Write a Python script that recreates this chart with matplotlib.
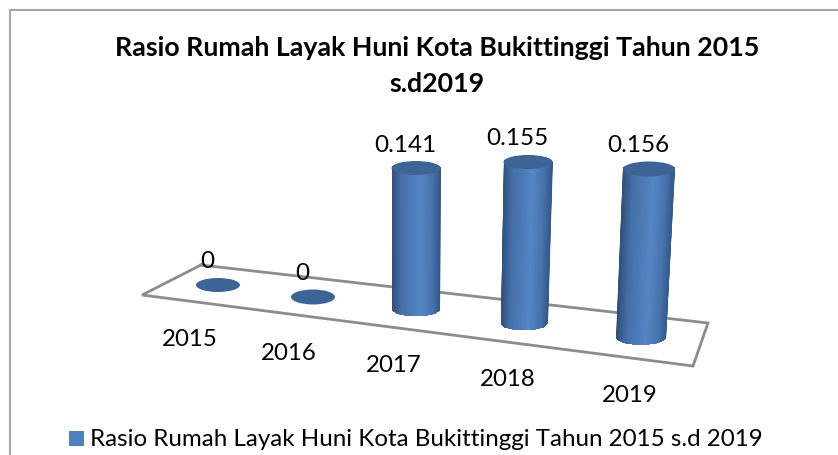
import numpy as np
import matplotlib
matplotlib.use("Agg")
import matplotlib.pyplot as plt
from matplotlib.colors import LinearSegmentedColormap
from matplotlib.patches import Ellipse, PathPatch, Rectangle
from matplotlib.path import Path

# data
years = ["2015", "2016", "2017", "2018", "2019"]
values = [0, 0, 0.141, 0.155, 0.156]
value_labels = ["0", "0", "0.141", "0.155", "0.156"]
title = "Rasio Rumah Layak Huni Kota Bukittinggi Tahun 2015\ns.d2019"
series_name = "Rasio Rumah Layak Huni Kota Bukittinggi Tahun 2015 s.d 2019"

# fake 3d layout, in pixels of the 838x455 picture
base_x = [218, 313, 416, 524, 641]
base_y = [285, 297, 309, 323, 337]
base_rx = [22, 22, 24, 23.5, 25]
base_ry = [7, 7.5, 7.5, 7.5, 8]
px_per_unit = [1000, 1000, 1000, 1039, 1077]
lean = [0, 0, 0, 26, 51]
label_dx = [-28, -24, -22, -16, -11]
label_dy = [55, 56, 57, 57, 59]
floor_x = [201, 142, 693, 708, 201]
floor_y = [265, 295, 366, 323, 265]

plt.rcParams["font.family"] = ["Lato", "DejaVu Sans"]

fig = plt.figure(figsize=(8.38, 4.55), dpi=100)
ax = fig.add_axes([0, 0, 1, 1])
ax.set_xlim(0, 838)
ax.set_ylim(455, 0)
ax.axis("off")

# chart frame, only top and left are in the crop
ax.plot([10, 838], [10, 10], c="#a6a6a6", lw=1.5)
ax.plot([10, 10], [10, 455], c="#a6a6a6", lw=1.5)

ax.text(437, 66.5, title, ha="center", va="center", fontsize=19.3, fontweight="bold", color="black", linespacing=1.6)

ax.plot(floor_x, floor_y, c="#8c8c8c", lw=2, solid_joinstyle="miter", zorder=1)

cmap = LinearSegmentedColormap.from_list("cyl", [(0, "#2f4f78"), (0.2, "#446fa8"), (0.6, "#5586c6"),
                                                 (0.85, "#4673ad"), (1, "#345a8c")])


def half_ellipse(cx, cy, rx, ry, a0, a1):
    t = np.linspace(a0, a1, 40)
    return np.column_stack((cx + rx * np.cos(t), cy + ry * np.sin(t)))


for i, v in enumerate(values):
    x0, y0 = base_x[i], base_y[i]
    h = v * px_per_unit[i]
    x1 = x0 + lean[i] * v
    y1 = y0 - h
    rx1 = base_rx[i] + (0.5 if h > 0 else 0) + (0.5 if i > 2 else 0)
    ry1 = base_ry[i] - (0.5 if h > 0 else 0)
    if h > 0:
        # body: gradient mesh clipped to the cylinder outline
        u = np.linspace(-1, 1, 80)
        X = np.vstack((x0 + u * base_rx[i], x1 + u * rx1))
        Y = np.vstack((np.full(80, y0 + base_ry[i] + 2), np.full(80, y1 - 2)))
        C = np.vstack((u, u))
        mesh = ax.pcolormesh(X, Y, C, cmap=cmap, shading="gouraud", vmin=-1, vmax=1, zorder=3)
        outline = np.vstack((half_ellipse(x0, y0, base_rx[i], base_ry[i], np.pi, 0),
                             half_ellipse(x1, y1, rx1, ry1, 0, -np.pi)))
        clip = PathPatch(Path(np.vstack((outline, outline[:1]))), transform=ax.transData, fc="none", ec="none")
        ax.add_patch(clip)
        mesh.set_clip_path(clip)
    ax.add_patch(Ellipse((x1, y1), 2 * rx1, 2 * ry1, fc="#3c6494", ec="none", zorder=4))
    ax.text(x1 - 11, y1 - 23, value_labels[i], ha="center", va="center", fontsize=17.5, color="black", zorder=5)
    ax.text(x0 + label_dx[i], y0 + label_dy[i], years[i], ha="center", va="center", fontsize=17.3, color="black")

# legend
ax.add_patch(Rectangle((69, 431), 15, 15, fc="#4f81bd", ec="none"))
ax.text(90, 439.5, series_name, ha="left", va="center", fontsize=17.4, color="black")

fig.savefig("out.png", dpi=100)
